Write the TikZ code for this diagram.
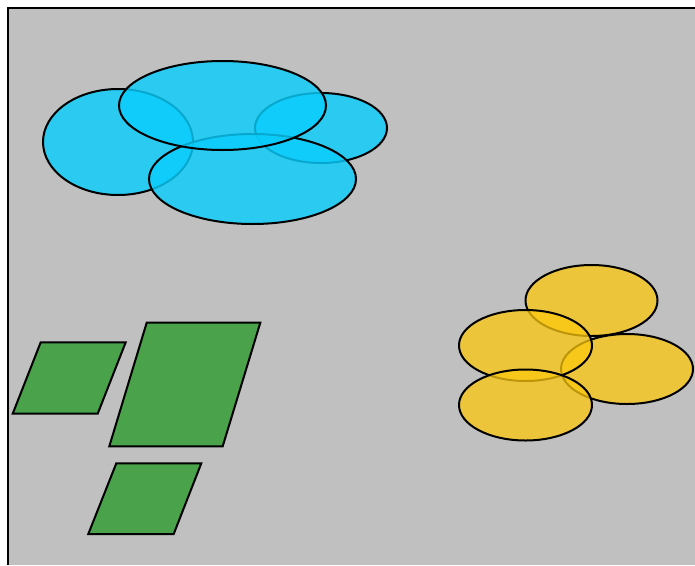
\documentclass[tikz,border=0pt]{standalone}
\definecolor{bggray}{RGB}{192,192,192}
\definecolor{cloudcyan}{RGB}{10,205,252}
\definecolor{sunyellow}{RGB}{252,200,15}
\definecolor{leafgreen}{RGB}{74,162,74}
\tikzset{
  cyanshape/.style={draw=black,line width=2pt,fill=cloudcyan,fill opacity=0.82},
  yellowshape/.style={draw=black,line width=2pt,fill=sunyellow,fill opacity=0.75},
  greenshape/.style={draw=black,line width=2pt,fill=leafgreen,line join=miter},
}
\begin{document}
\begin{tikzpicture}[x=1pt,y=-1pt]
\useasboundingbox (0,0) rectangle (695,565);
\fill[white] (0,0) rectangle (695,565);
\fill[bggray] (8,8) rectangle (695,565);
\draw[line width=2pt] (8,565) -- (8,8) -- (695,8);
% cyan cluster
\draw[cyanshape] (118,142) ellipse [x radius=75, y radius=53];
\draw[cyanshape] (321,128) ellipse [x radius=66, y radius=35];
\draw[cyanshape] (252.5,179) ellipse [x radius=103.5, y radius=45];
\draw[cyanshape] (222.5,105.5) ellipse [x radius=103.5, y radius=44.5];
% yellow cluster
\draw[yellowshape] (591.5,300.5) ellipse [x radius=66, y radius=35.5];
\draw[yellowshape] (627,369) ellipse [x radius=66, y radius=35];
\draw[yellowshape] (525.5,345.5) ellipse [x radius=66.5, y radius=35.5];
\draw[yellowshape] (525.5,405) ellipse [x radius=66.5, y radius=35.5];
% green parallelograms
\draw[greenshape] (40.7,342.3) -- (125.7,342.3) -- (97.7,413.7) -- (12.7,413.7) -- cycle;
\draw[greenshape] (146.7,322.7) -- (260.3,322.7) -- (222.7,446.3) -- (109.3,446.3) -- cycle;
\draw[greenshape] (116.3,463.3) -- (201.3,463.3) -- (173.7,534) -- (88.3,534) -- cycle;
\end{tikzpicture}
\end{document}
